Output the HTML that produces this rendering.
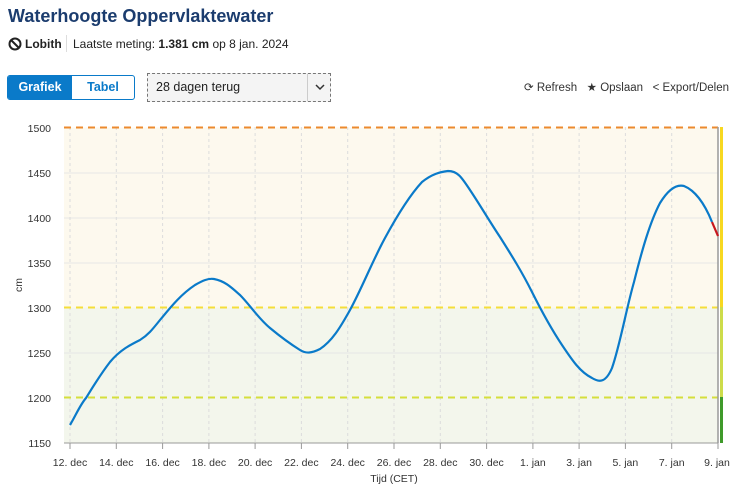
<!DOCTYPE html>
<html><head><meta charset="utf-8"><style>
body{margin:0;width:732px;height:489px;background:#fff;font-family:"Liberation Sans",sans-serif;overflow:hidden;position:relative}
.t{position:absolute;white-space:nowrap}
</style></head><body>
<div class="t" style="left:8px;top:6px;font-size:18px;font-weight:bold;color:#1b3c6e">Waterhoogte Oppervlaktewater</div>
<svg class="t" style="left:8px;top:37px" width="14" height="14" viewBox="0 0 14 14"><circle cx="7" cy="7" r="5.5" fill="none" stroke="#222" stroke-width="2"/><line x1="3" y1="3" x2="11" y2="11" stroke="#222" stroke-width="2"/></svg>
<div class="t" style="left:25px;top:37px;font-size:12px;color:#222"><b>Lobith</b></div>
<div class="t" style="left:66px;top:35px;width:1px;height:17px;background:#ddd"></div>
<div class="t" style="left:73px;top:37px;font-size:12px;color:#222">Laatste meting: <b>1.381 cm</b> op 8 jan. 2024</div>
<div class="t" style="left:7px;top:75px;width:126px;height:23px;border:1px solid #0a7ac9;border-radius:3px;overflow:hidden;font-size:12.5px;font-weight:bold">
<div style="position:absolute;left:0;top:0;width:64px;height:23px;background:#0a7ac9;color:#fff;text-align:center;line-height:23px">Grafiek</div>
<div style="position:absolute;left:64px;top:0;width:62px;height:23px;color:#0a7ac9;text-align:center;line-height:23px">Tabel</div></div>
<div class="t" style="left:147px;top:73px;width:182px;height:27px;border:1px dashed #777;background:#f4f4f4;font-size:12.5px;color:#222"><span style="position:absolute;left:8px;top:6px">28 dagen terug</span><span style="position:absolute;left:159px;top:0;width:1px;height:27px;background:#ccc"></span><svg style="position:absolute;left:167px;top:10px" width="10" height="7"><polyline points="1,1 5,5 9,1" fill="none" stroke="#333" stroke-width="1.5"/></svg></div>
<div class="t" style="left:524px;top:80px;font-size:11.5px;color:#333">⟳ Refresh&nbsp;&nbsp;&nbsp;★ Opslaan&nbsp;&nbsp;&nbsp;&lt; Export/Delen</div>
<svg class="t" style="left:0;top:0" width="732" height="489" font-family="Liberation Sans, sans-serif">
<rect x="64" y="127.5" width="654" height="180" fill="#fdf9ee"/>
<rect x="64" y="307.5" width="654" height="135.5" fill="#f3f6ec"/>
<g stroke="#e6e6e6" stroke-width="1">
<line x1="64" x2="718" y1="173" y2="173"/><line x1="64" x2="718" y1="218" y2="218"/><line x1="64" x2="718" y1="263" y2="263"/><line x1="64" x2="718" y1="353" y2="353"/></g>
<g stroke="#dcdcdc" stroke-dasharray="3,3">
<line x1="70" x2="70" y1="127" y2="443"/><line x1="116.3" x2="116.3" y1="127" y2="443"/><line x1="162.6" x2="162.6" y1="127" y2="443"/><line x1="208.9" x2="208.9" y1="127" y2="443"/><line x1="255.1" x2="255.1" y1="127" y2="443"/><line x1="301.4" x2="301.4" y1="127" y2="443"/><line x1="347.7" x2="347.7" y1="127" y2="443"/><line x1="394" x2="394" y1="127" y2="443"/><line x1="440.3" x2="440.3" y1="127" y2="443"/><line x1="486.6" x2="486.6" y1="127" y2="443"/><line x1="532.9" x2="532.9" y1="127" y2="443"/><line x1="579.1" x2="579.1" y1="127" y2="443"/><line x1="625.4" x2="625.4" y1="127" y2="443"/><line x1="671.7" x2="671.7" y1="127" y2="443"/></g>
<line x1="64" x2="718" y1="127.5" y2="127.5" stroke="#ec8a2e" stroke-width="2" stroke-dasharray="7,5"/>
<line x1="64" x2="718" y1="307.5" y2="307.5" stroke="#f5de3a" stroke-width="2" stroke-dasharray="7,5"/>
<line x1="64" x2="718" y1="397.5" y2="397.5" stroke="#d5df3c" stroke-width="2" stroke-dasharray="7,5"/>
<line x1="718" x2="718" y1="127" y2="443" stroke="#999" stroke-width="1.5"/>
<rect x="720" y="127" width="3" height="180" fill="#f7d820"/>
<rect x="720" y="307" width="3" height="90" fill="#cddc4a"/>
<rect x="720" y="397" width="3" height="46" fill="#3f9a2a"/>
<line x1="64" x2="718" y1="443" y2="443" stroke="#999"/>
<g stroke="#999"><line x1="70" x2="70" y1="443" y2="449"/><line x1="116.3" x2="116.3" y1="443" y2="449"/><line x1="162.6" x2="162.6" y1="443" y2="449"/><line x1="208.9" x2="208.9" y1="443" y2="449"/><line x1="255.1" x2="255.1" y1="443" y2="449"/><line x1="301.4" x2="301.4" y1="443" y2="449"/><line x1="347.7" x2="347.7" y1="443" y2="449"/><line x1="394" x2="394" y1="443" y2="449"/><line x1="440.3" x2="440.3" y1="443" y2="449"/><line x1="486.6" x2="486.6" y1="443" y2="449"/><line x1="532.9" x2="532.9" y1="443" y2="449"/><line x1="579.1" x2="579.1" y1="443" y2="449"/><line x1="625.4" x2="625.4" y1="443" y2="449"/><line x1="671.7" x2="671.7" y1="443" y2="449"/><line x1="718" x2="718" y1="443" y2="449"/></g>
<g font-size="10.5" fill="#333" text-anchor="middle">
<text x="70" y="466">12. dec</text><text x="116.3" y="466">14. dec</text><text x="162.6" y="466">16. dec</text><text x="208.9" y="466">18. dec</text><text x="255.1" y="466">20. dec</text><text x="301.4" y="466">22. dec</text><text x="347.7" y="466">24. dec</text><text x="394" y="466">26. dec</text><text x="440.3" y="466">28. dec</text><text x="486.6" y="466">30. dec</text><text x="532.9" y="466">1. jan</text><text x="579.1" y="466">3. jan</text><text x="625.4" y="466">5. jan</text><text x="671.7" y="466">7. jan</text><text x="717" y="466">9. jan</text>
<text x="394" y="482">Tijd (CET)</text></g>
<g font-size="10.5" fill="#333" text-anchor="end">
<text x="51" y="132">1500</text><text x="51" y="177">1450</text><text x="51" y="222">1400</text><text x="51" y="267">1350</text><text x="51" y="312">1300</text><text x="51" y="357">1250</text><text x="51" y="402">1200</text><text x="51" y="447">1150</text></g>
<text x="22" y="285" font-size="10.5" fill="#333" transform="rotate(-90 22 285)" text-anchor="middle">cm</text>
<path d="M70,425 C76,415 80,405 86,398 C94,385 100,375 110,362 C120,350 130,345 140,340 C148,335 152,330 160,320 C170,308 180,295 195,285 C202,281 208,278 214,279 C225,281 232,288 240,295 C250,305 258,318 270,328 C282,338 292,345 300,350 C306,354 312,353 320,349 C332,341 340,328 350,310 C362,288 372,262 385,238 C398,214 410,195 422,182 C432,174 440,172 448,171 C458,171 462,178 470,190 C480,205 490,222 500,237 C512,256 522,272 532,292 C542,312 552,330 562,345 C572,360 580,372 592,378 C600,383 606,382 612,368 C620,345 626,310 634,282 C642,250 650,222 660,203 C668,190 676,184 684,186 C694,190 704,202 712,222" fill="none" stroke="#0a7ac9" stroke-width="2.2"/>
<path d="M712,222 L718,236" stroke="#c8161d" stroke-width="2.2"/>
</svg>
</body></html>
